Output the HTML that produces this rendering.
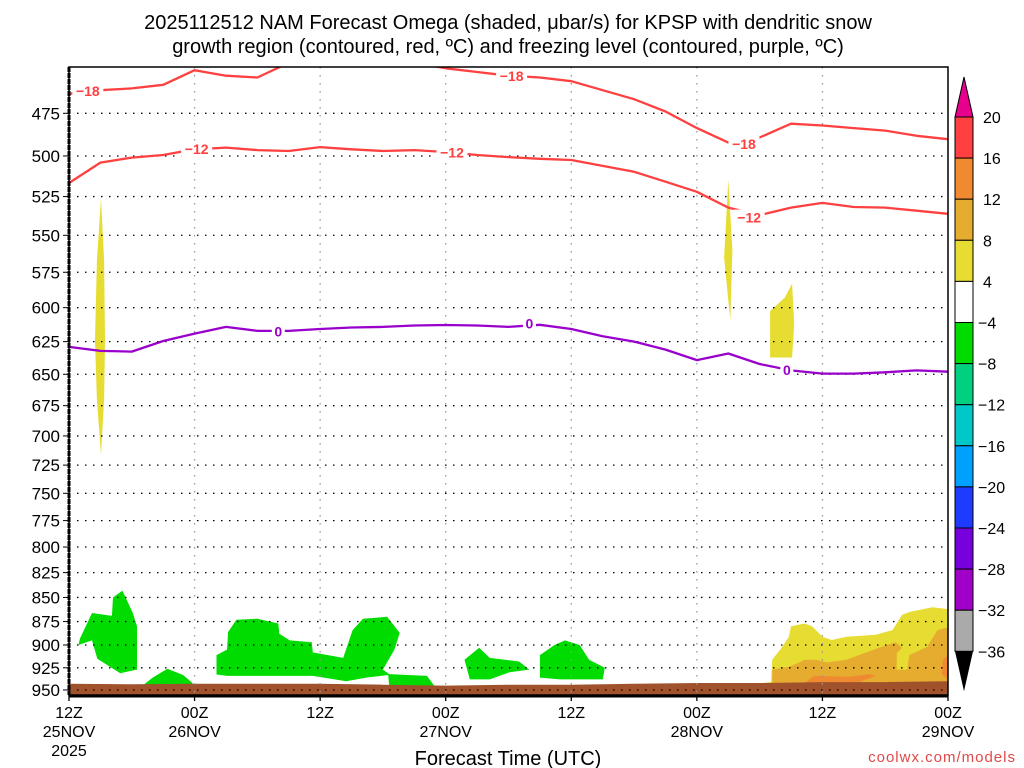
<!DOCTYPE html>
<html><head><meta charset="utf-8"><title>NAM Omega KPSP</title>
<style>
html,body{margin:0;padding:0;background:#fff;}
svg{display:block;font-family:"Liberation Sans",sans-serif;}
</style></head>
<body>
<svg id="chart" width="1024" height="768" viewBox="0 0 1024 768" xmlns="http://www.w3.org/2000/svg">
<rect x="0" y="0" width="1024" height="768" fill="#fff"/>
<text x="508" y="29" text-anchor="middle" font-size="20" fill="#000">2025112512 NAM Forecast Omega (shaded, μbar/s) for KPSP with dendritic snow</text>
<text x="508" y="53" text-anchor="middle" font-size="20" fill="#000">growth region (contoured, red, ºC) and freezing level (contoured, purple, ºC)</text>
<defs><clipPath id="plotclip"><rect x="69" y="67" width="879" height="628"/></clipPath></defs>
<g id="shading" clip-path="url(#plotclip)"></g>
<g id="grid"></g>
<g id="contours" clip-path="url(#plotclip)"></g>
<g id="axes"></g>
<g id="colorbar"></g>
<text x="508" y="765" text-anchor="middle" font-size="20" fill="#000">Forecast Time (UTC)</text>
<text x="1016" y="762" text-anchor="end" font-size="15" fill="#e04848" letter-spacing="1">coolwx.com/models</text>
</svg>
<script>
// ---- data ----
const hours = [0,3,6,9,12,15,18,21,24,27,30,33,36,39,42,45,48,51,54,57,60,63,66,69,72,75,78,81,84];
const minus18 = [464,462,461,459,451,454,455,447,444,442,444,447,450,452,454,455,457,462,467,474,483.5,492,489,481,482,483.5,485,488,490];
const minus12 = [516.5,504,501,499.4,496,495,496.5,497,494.7,496,497,496.5,497.6,499.4,500.7,501.7,502.4,506,509.6,515.7,522,532,536.8,532,529,531.6,532,534,536];
const freezing = [629,632,632.5,624.5,619,614,617,617,615.6,614.5,614,613,612.6,613,614,612.5,615.6,621,625,631,639,634,642,647,649.5,649.5,648.5,647,648];
const pressureTicks = [475,500,525,550,575,600,625,650,675,700,725,750,775,800,825,850,875,900,925,950];
const timeTicks = [0,12,24,36,48,60,72,84];
const timeLabels1 = ["12Z","00Z","12Z","00Z","12Z","00Z","12Z","00Z"];
const timeLabels2 = ["25NOV","26NOV","","27NOV","","28NOV","","29NOV"];
const cbLevels = [20,16,12,8,4,-4,-8,-12,-16,-20,-24,-28,-32,-36];
const cbColors = ["#ff4040","#f08a30","#e6ac30","#e6dc32","#ffffff","#00dc00","#00d080","#00c8c8","#00a0ff","#1e3cff","#7800dc","#a000c8","#aaaaaa"];
const groundHours = [0,6,12,18,24,30,36,42,48,54,60,66,72,78,84];
const groundP = [943,943.5,943,943,943,944,945,944,944,943,942,942,941,941,940];
// shaded omega regions: [hour, hPa] vertices
const blobs = [
 {c:"#00dc00", pts:[[0.9,900],[1.05,893],[2.2,866],[4.1,869],[4.2,850],[5.1,843],[6.1,866],[6.5,880],[6.5,927],[4.9,931],[2.7,915],[2.2,895]]},
 {c:"#00dc00", pts:[[6.8,947],[8,936],[9.4,926],[10.9,933],[11.8,942],[11.8,947]]},
 {c:"#00dc00", pts:[[14.1,911],[15.1,905],[15.2,886],[16,873],[18,872],[20,877],[20.1,888],[21.1,895],[23.2,897],[23.3,908],[26.2,914],[27.1,884],[28.1,872],[30.4,870],[31.6,887],[31.1,905],[30,927],[30.6,932],[34.2,934],[34.9,945],[30.6,946],[30.5,933],[28.4,936],[26.5,940],[23.3,934],[15.1,934],[14.1,932.5]]},
 {c:"#00dc00", pts:[[37.8,916],[39.2,903],[40.2,914],[43,918],[44,927],[42.1,930],[40.2,938],[38.3,938]]},
 {c:"#00dc00", pts:[[45,911],[46.4,900],[47.4,895],[48.8,900],[49.7,916],[51.2,925],[51,938],[46.9,938],[45,936]]},
 {c:"#e6dc32", pts:[[3.06,526],[3.35,567],[3.44,624],[3.35,670],[3.06,716],[2.67,670],[2.48,624],[2.67,567]]},
 {c:"#e6dc32", pts:[[63,514.6],[63.4,560],[63.2,609],[62.6,565]]},
 {c:"#e6dc32", pts:[[67,602.5],[68.4,592.7],[69.1,583],[69.3,612],[69.1,637],[67,637]]},
 {c:"#e6dc32", pts:[[65.7,943],[67.1,941],[67.2,916],[68.1,903],[68.8,891],[69,880],[70.3,877],[71,880],[72,891],[72.9,894.6],[74.3,891],[77.1,889],[78.7,884],[79.6,868],[80.3,865],[82.5,860],[84,862],[84,960],[65.7,960]]},
 {c:"#e6ac30", pts:[[67.2,927],[68.8,924],[69.8,919],[70.3,916],[71.4,916],[72.4,919],[74.3,916],[77.4,903],[79,897],[79.6,903],[79.1,909],[79.1,927],[80.1,927],[80.3,911],[82,902],[83,884],[84,881],[84,960],[67.2,960]]},
 {c:"#f08a30", pts:[[70.3,942],[71.2,934],[74.6,935],[76.5,932],[77.1,934],[75.5,941],[70.3,943]]},
 {c:"#f08a30", pts:[[83.5,916],[84,911],[84,938],[83.4,932]]}
];
// ---- scales ----
const X0=69, X1=948, Y0=67, Y1=695;
function xs(h){return X0 + h*(X1-X0)/84;}
function ys(p){return 690 - 832*Math.log(950/p);}
const NS="http://www.w3.org/2000/svg";
function mk(tag, attrs, parent){const e=document.createElementNS(NS,tag);for(const k in attrs)e.setAttribute(k,attrs[k]);parent.appendChild(e);return e;}
const shading=document.getElementById('shading'), grid=document.getElementById('grid'), cont=document.getElementById('contours'), axes=document.getElementById('axes'), cb=document.getElementById('colorbar');

blobs.forEach((b,i)=>{
  const el=mk('polygon',{points:b.pts.map(p=>xs(p[0]).toFixed(1)+','+ys(p[1]).toFixed(1)).join(' '),fill:b.c},shading);
  
  
});
{
  let pts=groundHours.map((h,i)=>xs(h).toFixed(1)+','+ys(groundP[i]).toFixed(1));
  pts.push(X1+','+Y1, X0+','+Y1);
  const g=mk('polygon',{points:pts.join(' '),fill:"#a0522d"},shading);
  
  
}
pressureTicks.forEach(p=>{
  const l=mk('line',{x1:X0,x2:X1,y1:ys(p),y2:ys(p),stroke:"#000","stroke-width":1.3,"stroke-dasharray":"1.5 6.5"},grid);
  
  
});
timeTicks.forEach(h=>{
  if(h===0||h===84) return;
  const l=mk('line',{x1:xs(h),x2:xs(h),y1:Y0,y2:Y1,stroke:"#999","stroke-width":1.3,"stroke-dasharray":"1.5 6.5"},grid);
  
  
});
function drawLine(vals,color,name,labels,labelText){
  const d=hours.map((h,i)=>(i?'L':'M')+xs(h).toFixed(1)+','+ys(vals[i]).toFixed(1)).join(' ');
  const p=mk('path',{d:d,fill:"none",stroke:color,"stroke-width":2.3,"stroke-linejoin":"round"},cont);
  
  
  labels.forEach(h=>{
    const i=Math.round(h/3);
    const v=vals[i]+(vals[Math.min(i+1,vals.length-1)]-vals[i])*((h-hours[i])/3);
    const x=xs(h), y=ys(v);
    const w=labelText.length*9+4;
    const r=mk('rect',{x:x-w/2,y:y-8,width:w,height:16,fill:"#fff"},cont);
    
    
    const t=mk('text',{x:x,y:y+5,"text-anchor":"middle","font-size":14,"font-weight":"bold",fill:color},cont);
    t.textContent=labelText;
    
    
  });
}
drawLine(minus18,"#ff4040","contour-minus18",[1.8,42.3,64.5],"−18");
drawLine(minus12,"#ff4040","contour-minus12",[12.2,36.6,65],"−12");
drawLine(freezing,"#9900cc","freezing-level",[20,44,68.6],"0");

{
  const f=mk('rect',{x:X0,y:Y0,width:X1-X0,height:Y1-Y0,fill:"none",stroke:"#000","stroke-width":1.5},axes);
  
  
  const lb=mk('line',{x1:X0,x2:X0,y1:Y0,y2:Y1,stroke:"#000","stroke-width":3,"stroke-dasharray":"5 1"},axes);
  
  
  const bb=mk('line',{x1:X0,x2:X1,y1:Y1+1,y2:Y1+1,stroke:"#000","stroke-width":3},axes);
  
  
}
pressureTicks.forEach(p=>{
  const y=ys(p);
  const tk=mk('line',{x1:X0-6,x2:X0,y1:y,y2:y,stroke:"#000","stroke-width":1},axes);
  
  
  const t=mk('text',{x:X0-9,y:y+6,"text-anchor":"end","font-size":17,fill:"#000"},axes);
  t.textContent=p;
  
  
});
timeTicks.forEach((h,i)=>{
  const x=xs(h);
  const tk=mk('line',{x1:x,x2:x,y1:Y1,y2:Y1+6,stroke:"#000","stroke-width":1.3},axes);
  
  
  const t=mk('text',{x:x,y:718,"text-anchor":"middle","font-size":16,fill:"#000"},axes);
  t.textContent=timeLabels1[i];
  
  
  if(timeLabels2[i]){
    const t2=mk('text',{x:x,y:737,"text-anchor":"middle","font-size":16,fill:"#000"},axes);
    t2.textContent=timeLabels2[i];
    
    
  }
});
{
  const t=mk('text',{x:X0,y:756,"text-anchor":"middle","font-size":16,fill:"#000"},axes);
  t.textContent="2025";
  
  
}
const CBX=955, CBW=18, CBTOP=117, CBSTEP=41.1;
cbColors.forEach((c,i)=>{
  const r=mk('rect',{x:CBX,y:CBTOP+i*CBSTEP,width:CBW,height:CBSTEP,fill:c,stroke:"#000","stroke-width":1},cb);
  
  
});
cbLevels.forEach((v,i)=>{
  const t=mk('text',{x:v<0?978:983,y:CBTOP+i*CBSTEP+6,"font-size":16,fill:"#000"},cb);
  t.textContent=v<0?'−'+Math.abs(v):String(v);
  
  
});
{
  const top=mk('polygon',{points:`${CBX},${CBTOP} ${CBX+CBW},${CBTOP} ${CBX+CBW/2},77`,fill:"#e6008c",stroke:"#000","stroke-width":1},cb);
  
  
  const yb=CBTOP+cbColors.length*CBSTEP;
  const bot=mk('polygon',{points:`${CBX},${yb} ${CBX+CBW},${yb} ${CBX+CBW/2},${yb+40}`,fill:"#000"},cb);
  
  
}
</script>
</body></html>
